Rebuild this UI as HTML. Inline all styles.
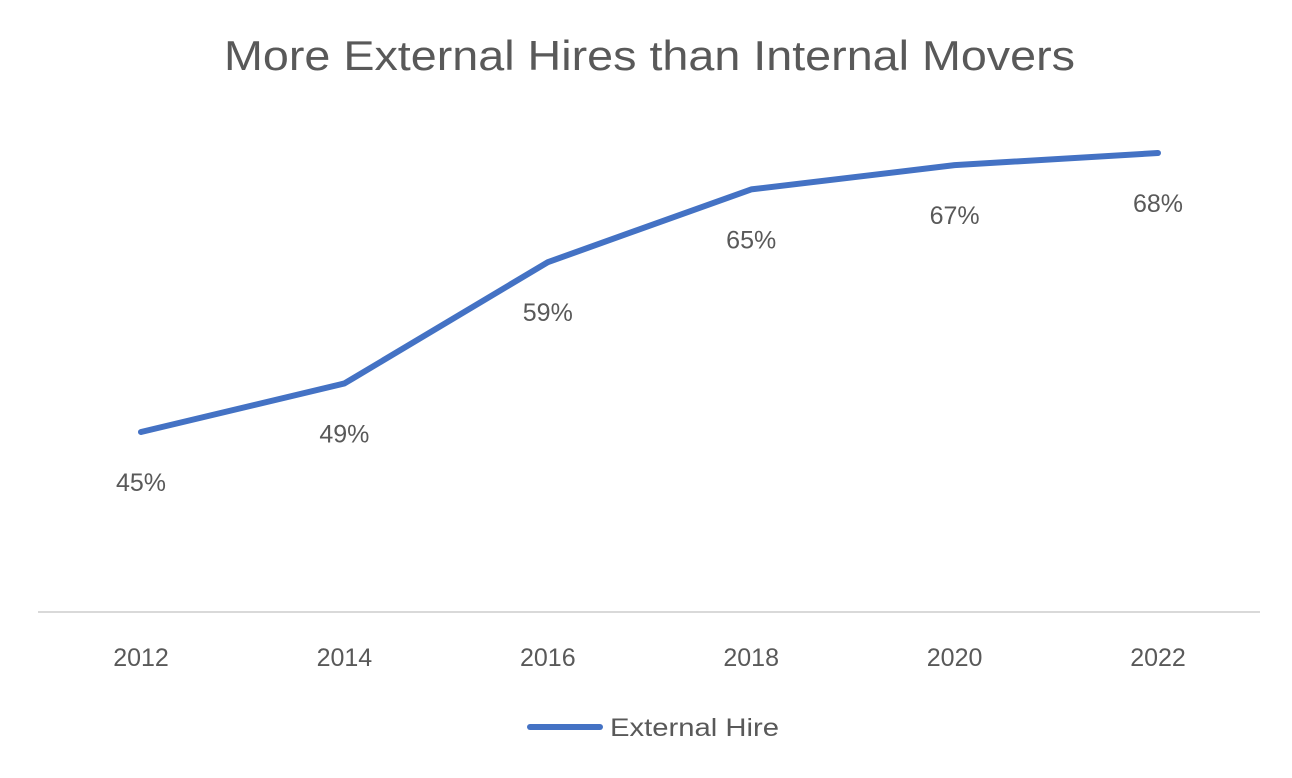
<!DOCTYPE html>
<html><head><meta charset="utf-8"><style>
body{margin:0;background:#fff;}
svg text{font-family:"Liberation Sans",sans-serif;fill:#595959;}
</style></head><body>
<svg width="1292" height="773" viewBox="0 0 1292 773">
<text x="224" y="70" font-size="42" textLength="851" lengthAdjust="spacingAndGlyphs">More External Hires than Internal Movers</text>
<line x1="38" y1="612" x2="1260" y2="612" stroke="#d9d9d9" stroke-width="2"/>
<g id="xlabels"></g>
<polyline id="series" fill="none" stroke="#4472c4" stroke-width="6" stroke-linejoin="round" stroke-linecap="round"/>
<g id="dlabels"></g>
<line x1="530" y1="727" x2="600" y2="727" stroke="#4472c4" stroke-width="6" stroke-linecap="round"/>
<text x="610" y="736" font-size="25" textLength="169" lengthAdjust="spacingAndGlyphs">External Hire</text>
</svg>
<script>
const categories=["2012","2014","2016","2018","2020","2022"];
const values=[45,49,59,65,67,68];
const labels=["45%","49%","59%","65%","67%","68%"];
const NS="http://www.w3.org/2000/svg";
function xPos(i){return 141+i*203.4;}
function yPos(v){return 432-(v-45)*12.13;}
const pts=values.map((v,i)=>xPos(i)+","+yPos(v)).join(" ");
document.getElementById("series").setAttribute("points",pts);
const xg=document.getElementById("xlabels"),dg=document.getElementById("dlabels");
categories.forEach((c,i)=>{
 const t=document.createElementNS(NS,"text");
 t.setAttribute("x",xPos(i));t.setAttribute("y",666);t.setAttribute("text-anchor","middle");t.setAttribute("font-size","25");
 
 
 t.textContent=c;xg.appendChild(t);
 const d=document.createElementNS(NS,"text");
 d.setAttribute("x",xPos(i));d.setAttribute("y",yPos(values[i])+59);d.setAttribute("text-anchor","middle");d.setAttribute("font-size","25");
 
 
 d.textContent=labels[i];dg.appendChild(d);
});
</script>
</body></html>
